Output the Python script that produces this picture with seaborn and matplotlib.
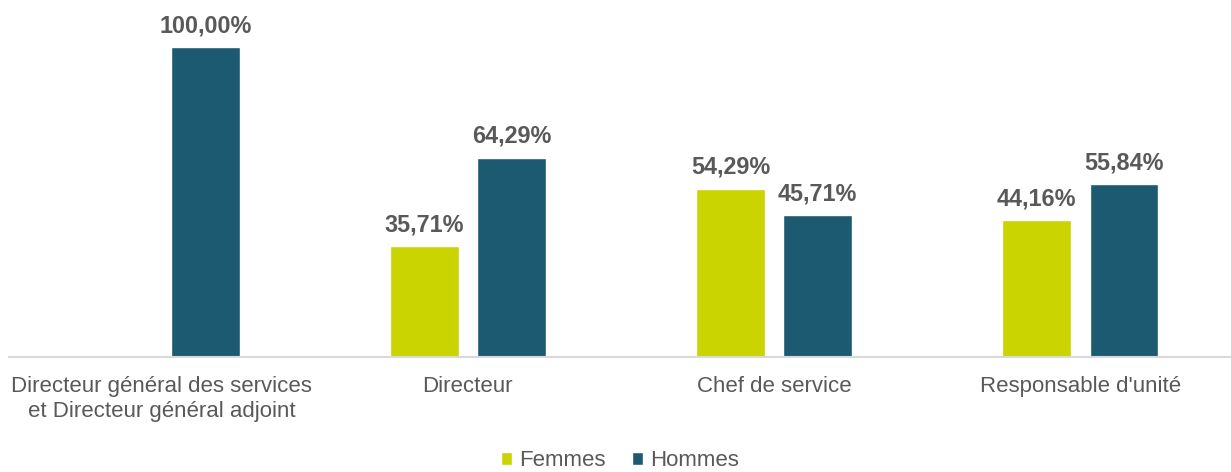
import matplotlib
matplotlib.use("Agg")
import matplotlib.pyplot as plt
import seaborn as sns
import pandas as pd

categories = ["Directeur général des services\net Directeur général adjoint",
              "Directeur", "Chef de service", "Responsable d'unité"]
series = ["Femmes", "Hommes"]
femmes = [0.0, 35.71, 54.29, 44.16]
hommes = [100.0, 64.29, 45.71, 55.84]

df = pd.DataFrame({
    "cat": categories * 2,
    "serie": ["Femmes"] * 4 + ["Hommes"] * 4,
    "val": femmes + hommes,
})

sns.set_theme(style="white")
plt.rcParams['font.family'] = ['Liberation Sans', 'DejaVu Sans']
TXT = "#595959"
colors = {"Femmes": "#C9D400", "Hommes": "#1C5A72"}

fig = plt.figure(figsize=(12.31, 4.72), dpi=100)
ax = fig.add_axes([8.5 / 1231, 1 - 357 / 472, 1225 / 1231, 341 / 472])

sns.barplot(data=df, x="cat", y="val", hue="serie", order=categories,
            hue_order=series, palette=colors, width=0.57, gap=0.21,
            saturation=1, ax=ax, legend=True)

ax.set_xlim(-0.5, 3.5)
ax.set_ylim(0, 110)
for c in ax.containers:
    labels = [("%.2f%%" % b.get_height()).replace(".", ",") if b.get_height() > 0 else ""
              for b in c]
    ax.bar_label(c, labels=labels, padding=7, fontsize=16.8, fontweight="bold", color=TXT)

ax.set_xlabel("")
ax.set_ylabel("")
ax.set_yticks([])
for s in ["top", "right", "left"]:
    ax.spines[s].set_visible(False)
ax.spines["bottom"].set_color("#D9D9D9")
ax.spines["bottom"].set_linewidth(1.5)
ax.tick_params(axis="x", length=0, pad=14, labelsize=16, labelcolor=TXT)
for t in ax.get_xticklabels():
    t.set_linespacing(1.2)

ax.legend_.remove()
handles, labs = ax.get_legend_handles_labels()
fig.legend(handles, labs, loc="center", bbox_to_anchor=(620 / 1231, 1 - 461 / 472),
           ncol=2, frameon=False, fontsize=16, labelcolor=TXT,
           handlelength=0.5, handleheight=0.5, handletextpad=0.3, columnspacing=1.2,
           borderpad=0.2)

fig.savefig("out.png", dpi=100)
